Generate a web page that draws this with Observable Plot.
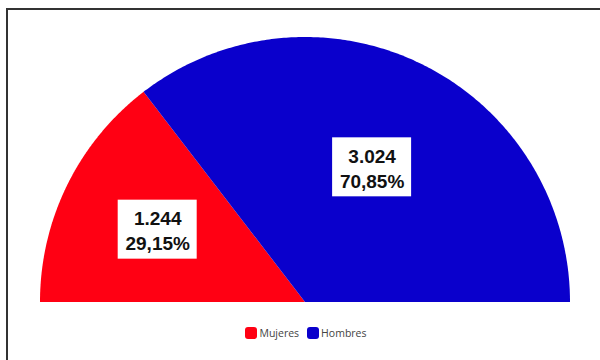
<!DOCTYPE html>
<html>
<head>
<meta charset="utf-8">
<script src="https://cdn.jsdelivr.net/npm/d3@7"></script>
<script src="https://cdn.jsdelivr.net/npm/@observablehq/plot@0.6"></script>
<style>
  html, body { margin: 0; padding: 0; background: white; width: 600px; height: 360px; overflow: hidden; }
  #chart { position: absolute; left: 0; top: 0; }
  #frame { position: absolute; left: 6px; top: 8px; width: 700px; height: 500px;
           border-left: 2px solid #333; border-top: 2px solid #333; pointer-events: none; }
  #legend { position: absolute; top: 326px; left: 0; width: 612px; text-align: center;
            font-family: "Open Sans", sans-serif; font-size: 10.5px; color: #444; }
  .item { display: inline-flex; align-items: center; margin: 0 4px; }
  .sw { width: 12px; height: 12px; border-radius: 3px; display: inline-block; margin-right: 2px; }
</style>
</head>
<body>
<div id="chart"></div>
<div id="frame"></div>
<div id="legend"></div>
<script>
const categories = ["Mujeres", "Hombres"];
const values = [1244, 3024];
const valueLabels = ["1.244", "3.024"];
const percentLabels = ["29,15%", "70,85%"];
const colors = ["#ff0013", "#0a00cc"];

// geometry (pixels)
const W = 600, H = 320, CX = 305, CY = 302, R = 265;
const total = d3.sum(values);

// semicircle sectors, starting at the left and going clockwise
const slices = [];
const labels = [];
let cum = 0;
categories.forEach((c, i) => {
  const a0 = Math.PI - (cum / total) * Math.PI;
  const a1 = Math.PI - ((cum + values[i]) / total) * Math.PI;
  cum += values[i];
  const n = 240;
  for (let k = 0; k <= n; k++) {
    const a = a0 + (a1 - a0) * k / n;
    slices.push({cat: c, x1: Math.cos(a), y1: Math.sin(a), x2: 0, y2: 0});
  }
  // label: blend of mid-angle point and sector area centroid
  const am = (a0 + a1) / 2, half = Math.abs(a0 - a1) / 2;
  const rc = 2 * Math.sin(half) / (3 * half);
  const r = (0.6 + rc) / 2;
  labels.push({cat: c, x: r * Math.cos(am), y: r * Math.sin(am),
               text: valueLabels[i] + "\n" + percentLabels[i]});
});

const bw = 79 / R, bh = 59 / R;

const chart = Plot.plot({
  width: W, height: H,
  marginLeft: 0, marginRight: 0, marginTop: 0, marginBottom: 0,
  style: {background: "transparent"},
  x: {type: "linear", domain: [-CX / R, (W - CX) / R], axis: null},
  y: {type: "linear", domain: [-(H - CY) / R, CY / R], axis: null},
  color: {domain: categories, range: colors},
  marks: [
    Plot.area(slices, {x1: "x1", y1: "y1", x2: "x2", y2: "y2", fill: "cat", z: "cat"}),
    Plot.rect(labels, {x1: d => d.x - bw / 2, x2: d => d.x + bw / 2,
                       y1: d => d.y - bh / 2, y2: d => d.y + bh / 2, fill: "white"}),
    Plot.text(labels, {x: "x", y: "y", text: "text", fontSize: 19, fontWeight: "bold",
                       lineHeight: 1.32, fill: "#111", fontFamily: "Liberation Sans, Arial, sans-serif"})
  ]
});
document.getElementById("chart").appendChild(chart);

const legend = document.getElementById("legend");
categories.forEach((c, i) => {
  const item = document.createElement("span");
  item.className = "item";
  const sw = document.createElement("span");
  sw.className = "sw";
  sw.style.background = colors[i];
  item.appendChild(sw);
  item.appendChild(document.createTextNode(c));
  legend.appendChild(item);
});
</script>
</body>
</html>
